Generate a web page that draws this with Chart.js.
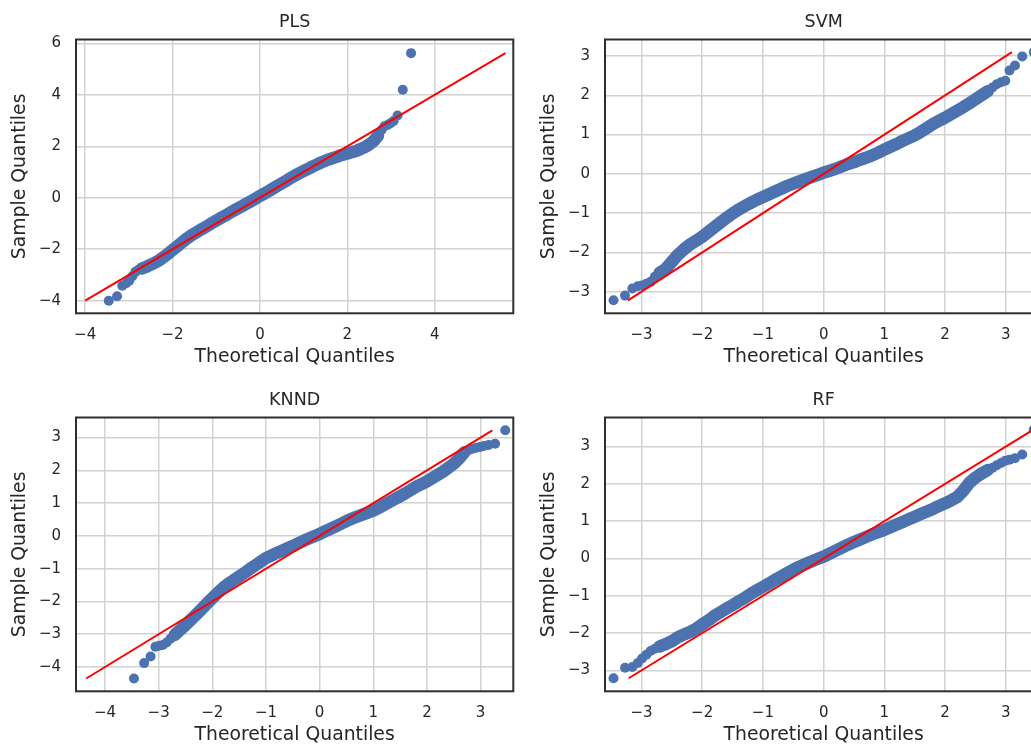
<!DOCTYPE html>
<html>
<head>
<meta charset="utf-8">
<title>Residual Q-Q plots</title>
<script src="https://cdn.jsdelivr.net/npm/chart.js@4.4.0/dist/chart.umd.min.js"></script>
<style>
    html, body { margin: 0; padding: 0; background: #fff; width: 1031px; height: 744px; overflow: hidden; }
    .panel { position: absolute; }
    .panel canvas { display: block; }
</style>
</head>
<body>
<div class="panel" style="left:0;top:0"><canvas id="pls" width="520" height="376"></canvas></div>
<div class="panel" style="left:529px;top:0"><canvas id="svm" width="520" height="376"></canvas></div>
<div class="panel" style="left:0;top:378px"><canvas id="knnd" width="520" height="376"></canvas></div>
<div class="panel" style="left:529px;top:378px"><canvas id="rf" width="520" height="376"></canvas></div>

<script>
/* ── DATA ────────────────────────────────────────────────
   Theoretical normal quantiles (shared by all four models)
   and the sorted standardized residuals of each model.
──────────────────────────────────────────────────────────── */
const theoretical = [
    -3.46, -3.27, -3.15, -3.06, -2.99, -2.92, -2.85, -2.78,
    -2.7, -2.6, -2.5, -2.4, -2.3, -2.2, -2.1, -2.0, -1.9, -1.8, -1.7, -1.6, -1.5, -1.4, -1.3, -1.2, -1.1, -1.0,
    -0.9, -0.8, -0.7, -0.6, -0.5, -0.4, -0.3, -0.2, -0.1, 0.0, 0.1, 0.2, 0.3, 0.4, 0.5, 0.6, 0.7, 0.8, 0.9,
    1.0, 1.1, 1.2, 1.3, 1.4, 1.5, 1.6, 1.7, 1.8, 1.9, 2.0, 2.1, 2.2, 2.3, 2.4, 2.5, 2.6, 2.7,
    2.78, 2.85, 2.92, 2.99, 3.06, 3.15, 3.27, 3.46
];

const plsSample = [
    -4.0, -3.83, -3.42, -3.32, -3.22, -3.05, -2.88, -2.8,
    -2.75, -2.68, -2.6, -2.52, -2.42, -2.3, -2.17, -2.03, -1.9, -1.76, -1.62, -1.5, -1.39, -1.29, -1.19, -1.09, -0.99, -0.89,
    -0.79, -0.7, -0.6, -0.5, -0.41, -0.32, -0.22, -0.13, -0.03, 0.07, 0.16, 0.26, 0.36, 0.46, 0.56, 0.66, 0.76, 0.86, 0.95,
    1.04, 1.12, 1.21, 1.29, 1.37, 1.44, 1.5, 1.56, 1.62, 1.67, 1.72, 1.77, 1.82, 1.89, 1.97, 2.07, 2.2, 2.4,
    2.62, 2.78, 2.83, 2.9, 2.98, 3.2, 4.2, 5.62
];

const svmSample = [
    -3.22, -3.1, -2.92, -2.86, -2.84, -2.8, -2.75, -2.62,
    -2.52, -2.42, -2.24, -2.06, -1.92, -1.8, -1.7, -1.6, -1.48, -1.36, -1.24, -1.12, -1.01, -0.91, -0.82, -0.74, -0.66, -0.59,
    -0.52, -0.45, -0.38, -0.31, -0.25, -0.19, -0.13, -0.08, -0.03, 0.03, 0.08, 0.13, 0.19, 0.25, 0.3, 0.36, 0.41, 0.47, 0.54,
    0.62, 0.69, 0.76, 0.84, 0.91, 0.98, 1.07, 1.17, 1.27, 1.35, 1.43, 1.52, 1.61, 1.7, 1.8, 1.9, 2.0, 2.1,
    2.2, 2.28, 2.33, 2.37, 2.63, 2.76, 2.99, 3.1
];

const knndSample = [
    -4.35, -3.88, -3.68, -3.38, -3.35, -3.33, -3.25, -3.14,
    -3.02, -2.87, -2.72, -2.56, -2.4, -2.24, -2.06, -1.9, -1.74, -1.59, -1.46, -1.35, -1.24, -1.13, -1.01, -0.9, -0.79, -0.68,
    -0.6, -0.52, -0.45, -0.38, -0.31, -0.23, -0.15, -0.08, -0.01, 0.06, 0.14, 0.21, 0.29, 0.37, 0.45, 0.52, 0.59, 0.65, 0.71,
    0.77, 0.85, 0.94, 1.03, 1.12, 1.21, 1.3, 1.4, 1.5, 1.58, 1.66, 1.76, 1.86, 1.96, 2.08, 2.2, 2.36, 2.55,
    2.62, 2.66, 2.69, 2.71, 2.74, 2.77, 2.81, 3.22
];

const rfSample = [
    -3.21, -2.93, -2.91, -2.8, -2.68, -2.58, -2.48, -2.42,
    -2.36, -2.29, -2.22, -2.11, -2.04, -1.97, -1.88, -1.77, -1.66, -1.54, -1.44, -1.34, -1.25, -1.15, -1.06, -0.95, -0.85, -0.76,
    -0.67, -0.57, -0.48, -0.39, -0.3, -0.22, -0.15, -0.08, -0.01, 0.05, 0.13, 0.21, 0.29, 0.37, 0.44, 0.51, 0.58, 0.65, 0.71,
    0.77, 0.84, 0.91, 0.98, 1.05, 1.12, 1.19, 1.26, 1.33, 1.41, 1.48, 1.56, 1.65, 1.82, 2.03, 2.17, 2.28, 2.37,
    2.43, 2.5, 2.56, 2.62, 2.65, 2.69, 2.79, 3.46
];

// Axis limits [min, max] and tick values per panel
const plsX = [-4.21, 5.80],  plsY = [-4.49, 6.15];
const svmX = [-3.60, 3.60],  svmY = [-3.55, 3.42];
const knndX = [-4.54, 3.61], knndY = [-4.74, 3.61];
const rfX = [-3.60, 3.60],   rfY = [-3.56, 3.78];

const plsXTicks = [-4, -2, 0, 2, 4],            plsYTicks = [-4, -2, 0, 2, 4, 6];
const svmXTicks = [-3, -2, -1, 0, 1, 2, 3],     svmYTicks = [-3, -2, -1, 0, 1, 2, 3];
const knndXTicks = [-4, -3, -2, -1, 0, 1, 2, 3], knndYTicks = [-4, -3, -2, -1, 0, 1, 2, 3];
const rfXTicks = [-3, -2, -1, 0, 1, 2, 3],      rfYTicks = [-3, -2, -1, 0, 1, 2, 3];

/* ── STYLE ──────────────────────────────────────────────── */
const FONT      = 'DejaVu Sans';
const TEXT      = '#262626';
const GRID      = '#d2d2d2';
const DOT       = '#4c72b0';
const REF_LINE  = '#ff0000';
const CLEAR     = 'rgba(0,0,0,0)';

Chart.defaults.font.family = FONT;
Chart.defaults.color = TEXT;

// matplotlib-style minus sign on tick labels
const fmtTick = v => (v < 0 ? '\u2212' + Math.abs(v) : String(v));

// The bulk of the residuals overlap into one solid band; only the
// sparse tail points stay as separate dots.
const inBulk = i => Math.abs(theoretical[i]) < 2.75;

// Dark box around the plotting area
const framePlugin = {
    id: 'frame',
    afterDatasetsDraw(chart) {
        const { ctx, chartArea: a } = chart;
        ctx.save();
        ctx.strokeStyle = '#2e2e2e';
        ctx.lineWidth = 2;
        ctx.strokeRect(a.left, a.top, a.right - a.left, a.bottom - a.top);
        ctx.restore();
    }
};

/* ── Q-Q PANEL ─────────────────────────────────────────── */
function qqPanel(id, name, sample, xLim, yLim, xTicks, yTicks) {
    const points = theoretical.map((t, i) => ({ x: t, y: sample[i] }));
    const lo = Math.min(...sample);
    const hi = Math.max(...sample);

    new Chart(document.getElementById(id), {
        type: 'scatter',
        data: {
            datasets: [
                {
                    // 45° reference line spanning the sample range
                    type: 'line',
                    data: [{ x: lo, y: lo }, { x: hi, y: hi }],
                    borderColor: REF_LINE,
                    borderWidth: 2,
                    pointRadius: 0,
                    fill: false,
                    clip: 0,
                    order: 0,
                },
                {
                    data: points,
                    showLine: true,
                    borderColor: DOT,
                    borderWidth: 12.5,
                    borderCapStyle: 'round',
                    borderJoinStyle: 'round',
                    segment: {
                        borderColor: ctx => (inBulk(ctx.p0DataIndex) && inBulk(ctx.p1DataIndex) ? DOT : CLEAR),
                    },
                    pointBackgroundColor: DOT,
                    pointBorderWidth: 0,
                    pointRadius: 5,
                    pointHoverRadius: 5,
                    clip: 0,
                    order: 1,
                }
            ]
        },
        options: {
            responsive: false,
            animation: false,
            events: [],
            layout: { padding: { left: 0, right: 6.7, top: 0, bottom: 0 } },
            plugins: {
                legend: { display: false },
                tooltip: { enabled: false },
                title: {
                    display: true,
                    fullSize: false,   // centre over the plotting area
                    text: name,
                    color: TEXT,
                    font: { family: FONT, size: 17.5, weight: 'normal' },
                    padding: { top: 12, bottom: 6.5 },
                }
            },
            scales: {
                x: {
                    type: 'linear',
                    min: xLim[0],
                    max: xLim[1],
                    afterBuildTicks: s => { s.ticks = xTicks.map(v => ({ value: v })); },
                    afterFit: s => { s.height = 62.7; },
                    grid: { color: GRID, lineWidth: 1.5, drawTicks: false },
                    border: { display: false },
                    ticks: {
                        padding: 12.5,
                        autoSkip: false,
                        maxRotation: 0,
                        color: TEXT,
                        font: { family: FONT, size: 15 },
                        callback: fmtTick,
                    },
                    title: {
                        display: true,
                        text: 'Theoretical Quantiles',
                        color: TEXT,
                        font: { family: FONT, size: 18.8 },
                        padding: { top: 0, bottom: 7.5 },
                    }
                },
                y: {
                    type: 'linear',
                    min: yLim[0],
                    max: yLim[1],
                    afterBuildTicks: s => { s.ticks = yTicks.map(v => ({ value: v })); },
                    afterFit: s => { s.width = 76; },
                    grid: { color: GRID, lineWidth: 1.5, drawTicks: false },
                    border: { display: false },
                    ticks: {
                        padding: 15,
                        autoSkip: false,
                        color: TEXT,
                        font: { family: FONT, size: 15 },
                        callback: fmtTick,
                    },
                    title: {
                        display: true,
                        text: 'Sample Quantiles',
                        color: TEXT,
                        font: { family: FONT, size: 18.8 },
                        padding: { top: 8.7, bottom: 0 },
                    }
                }
            }
        },
        plugins: [framePlugin]
    });
}

qqPanel('pls',  'PLS',  plsSample,  plsX,  plsY,  plsXTicks,  plsYTicks);
qqPanel('svm',  'SVM',  svmSample,  svmX,  svmY,  svmXTicks,  svmYTicks);
qqPanel('knnd', 'KNND', knndSample, knndX, knndY, knndXTicks, knndYTicks);
qqPanel('rf',   'RF',   rfSample,   rfX,   rfY,   rfXTicks,   rfYTicks);
</script>
</body>
</html>
